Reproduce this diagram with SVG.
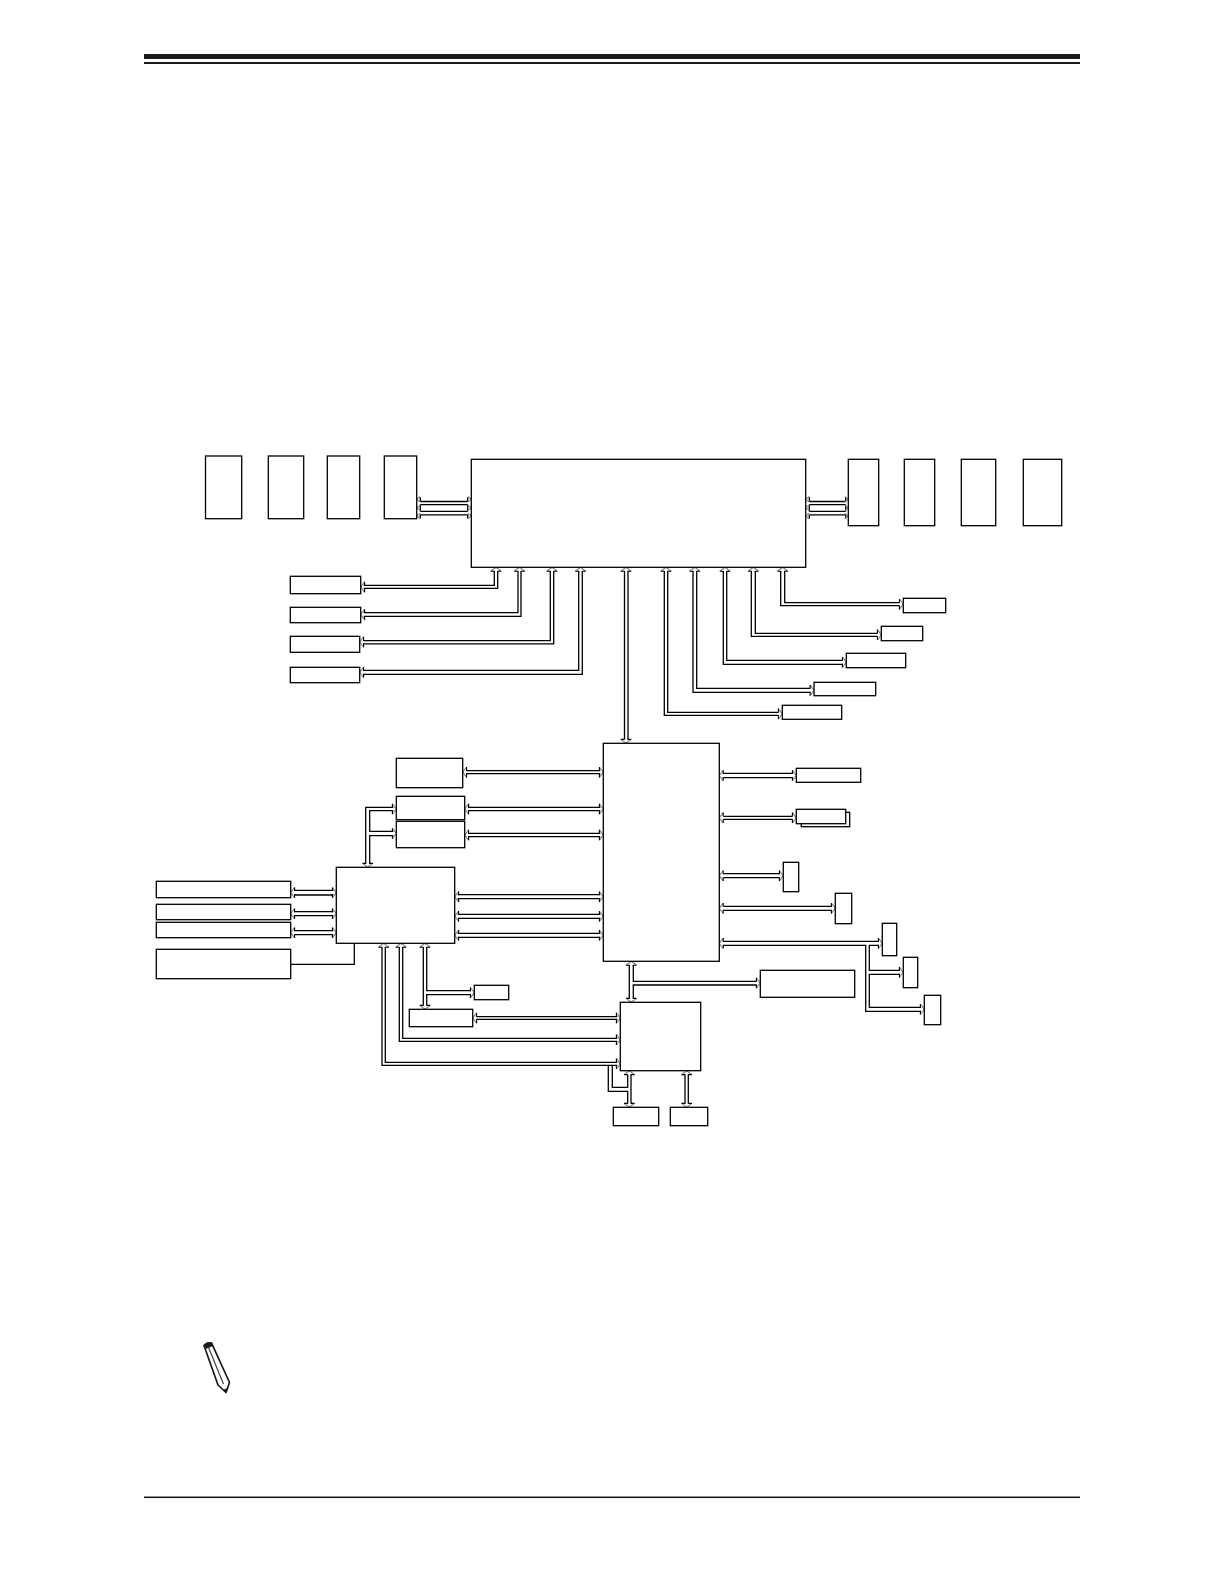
<svg xmlns="http://www.w3.org/2000/svg" xmlns:xlink="http://www.w3.org/1999/xlink" width="1224" height="1584" viewBox="0 0 1224 1584">
<style>
.n{fill:#fff;stroke:#000;stroke-width:1.3}
.b{fill:none;stroke:#000;stroke-width:1.3}
.r{fill:#1a1a1a}
</style>
<defs>
<g id="h" fill="none" stroke-width="1.1"><path d="M-3.9,-5.2L0,0L-3.9,5.2" stroke="#808080"/><path d="M-3.9,-5.2V-1.5M-3.9,5.2V1.5" stroke="#000"/></g>
<g id="s" fill="none" stroke-width="1.1"><path d="M-3.6,-2.8L0,0L-3.6,2.8" stroke="#808080"/></g>
</defs>
<rect width="1224" height="1584" fill="#fff"/>
<g id="page-rules">
<rect class="r" x="144" y="54" width="936" height="5"/>
<rect class="r" x="144" y="62" width="936" height="2"/>
<rect class="r" x="144" y="1496.5" width="936" height="1.6"/>
</g>
<g id="connectors">
<path class="b" d="M420.3,501.5H467.7M420.3,504.7H467.7M420.3,511.3H467.7M420.3,514.8H467.7M420.3,497.3V501.5M467.7,497.3V501.5M420.3,504.7V511.3M467.7,504.7V511.3M420.3,514.8V518.6M467.7,514.8V518.6"/>
<path class="b" d="M809.3,501.5H845.7M809.3,504.7H845.7M809.3,511.3H845.7M809.3,514.8H845.7M809.3,497.3V501.5M845.7,497.3V501.5M809.3,504.7V511.3M845.7,504.7V511.3M809.3,514.8V518.6M845.7,514.8V518.6"/>
<path class="b" d="M363.7,585.3H494.3V571M363.7,588.3H497.7V571"/>
<path class="b" d="M363.7,612.7H518V571M363.7,616.3H521V571"/>
<path class="b" d="M363,640.7H550.3V571M363,643.8H553.7V571"/>
<path class="b" d="M363,670.3H578.7V571M363,674.3H582.3V571"/>
<path class="b" d="M624.5,571V739.6M628,571V739.6"/>
<path class="b" d="M667.7,571V712.3H778.6M664.3,571V715.3H778.6"/>
<path class="b" d="M696.7,571V688.3H810.3M693,571V692.3H810.3"/>
<path class="b" d="M726.7,571V660.3H842.6M723.3,571V664.3H842.6"/>
<path class="b" d="M755.3,571V633.3H877.6M751.3,571V636.3H877.6"/>
<path class="b" d="M784.7,571V602.7H899.6M780.7,571V605.7H899.6"/>
<path class="b" d="M466,770.7H600.3M466,773.7H600.3"/>
<path class="b" d="M468,807.3H600.3M468,810.7H600.3"/>
<path class="b" d="M468,833.3H600.3M468,836.7H600.3"/>
<path class="b" d="M365.7,863.6V807.3H393.3M369.7,863.6V835.7H393.3M393.3,810.7H369.7V831.3H393.3"/>
<path class="b" d="M294,890.3H333.3M294,895H333.3M294,911.7H333.3M294,915.7H333.3M294,930.7H333.3M294,934.7H333.3"/>
<path class="b" d="M290.7,964.3H354.3V943.3"/>
<path class="b" d="M457.8,894.7H600.3M457.8,898.7H600.3M457.8,914.3H600.3M457.8,918.3H600.3M457.8,933.3H600.3M457.8,937.3H600.3"/>
<path class="b" d="M423.3,947V1005.6M426.7,947V990.7H471M426.7,1005.6V994.7H471"/>
<path class="b" d="M476.3,1016.7H617.3M476.3,1019.3H617.3"/>
<path class="b" d="M402.7,947V1038.3H617.3M399.3,947V1041.3H617.3"/>
<path class="b" d="M385.3,947V1062.3H617.3M382,947V1065.3H617.3"/>
<path class="b" d="M608.3,1065.3V1091.3H627.7V1103.6M612.3,1065.3V1087.3H627.7V1074.4M631,1074.4V1103.6"/>
<path class="b" d="M685,1074.4V1103.6M688.3,1074.4V1103.6"/>
<path class="b" d="M629.3,965V998.6M633.3,965V981.3H756.6M633.3,998.6V985H756.6"/>
<path class="b" d="M723.3,773.3H792.6M723.3,777.7H792.6"/>
<path class="b" d="M723.3,816.3H792.6M723.3,819.3H792.6"/>
<path class="b" d="M723.3,873.7H779.6M723.3,877.7H779.6"/>
<path class="b" d="M723.3,906.3H831.6M723.3,910.3H831.6"/>
<path class="b" d="M723.3,941.3H878.6M723.3,945.3H865.7V1011.3H921M878.6,945.3H869.3V970.3H900M900,974.3H869.3V1007.3H921"/>
</g>
<g id="arrowheads">
<use href="#s" transform="translate(416.7,499.3) rotate(180)"/><use href="#s" transform="translate(416.7,507.7) rotate(180)"/><use href="#s" transform="translate(416.7,516) rotate(180)"/>
<use href="#s" transform="translate(471.3,499.3)"/><use href="#s" transform="translate(471.3,507.7)"/><use href="#s" transform="translate(471.3,516)"/>
<use href="#s" transform="translate(805.7,499.3) rotate(180)"/><use href="#s" transform="translate(805.7,507.7) rotate(180)"/><use href="#s" transform="translate(805.7,516) rotate(180)"/>
<use href="#s" transform="translate(848.3,499.3)"/><use href="#s" transform="translate(848.3,507.7)"/><use href="#s" transform="translate(848.3,516)"/>
<use href="#h" transform="translate(496,567.3) rotate(-90)"/><use href="#h" transform="translate(360.7,587) rotate(180)"/>
<use href="#h" transform="translate(519.5,567.3) rotate(-90)"/><use href="#h" transform="translate(360.7,614.5) rotate(180)"/>
<use href="#h" transform="translate(552,567.3) rotate(-90)"/><use href="#h" transform="translate(359.7,642) rotate(180)"/>
<use href="#h" transform="translate(580.5,567.3) rotate(-90)"/><use href="#h" transform="translate(359.7,672.3) rotate(180)"/>
<use href="#h" transform="translate(626,567.3) rotate(-90)"/><use href="#h" transform="translate(626,743.3) rotate(90)"/>
<use href="#h" transform="translate(666,567.3) rotate(-90)"/><use href="#h" transform="translate(782.3,713.8)"/>
<use href="#h" transform="translate(694.8,567.3) rotate(-90)"/><use href="#h" transform="translate(814,690.3)"/>
<use href="#h" transform="translate(725,567.3) rotate(-90)"/><use href="#h" transform="translate(846.3,662.3)"/>
<use href="#h" transform="translate(753.3,567.3) rotate(-90)"/><use href="#h" transform="translate(881.3,634.8)"/>
<use href="#h" transform="translate(782.7,567.3) rotate(-90)"/><use href="#h" transform="translate(903.3,604.2)"/>
<use href="#h" transform="translate(462.7,772.2) rotate(180)"/><use href="#h" transform="translate(603.3,772.2)"/>
<use href="#h" transform="translate(464.7,809) rotate(180)"/><use href="#h" transform="translate(603.3,809)"/>
<use href="#h" transform="translate(464.7,835) rotate(180)"/><use href="#h" transform="translate(603.3,835)"/>
<use href="#h" transform="translate(367.7,867.3) rotate(90)"/>
<use href="#h" transform="translate(396.3,809) "/><use href="#h" transform="translate(396.3,833.5)"/>
<use href="#h" transform="translate(290.7,892.6) rotate(180)"/><use href="#h" transform="translate(336.3,892.6)"/>
<use href="#h" transform="translate(290.7,913.7) rotate(180)"/><use href="#h" transform="translate(336.3,913.7)"/>
<use href="#h" transform="translate(290.7,932.7) rotate(180)"/><use href="#h" transform="translate(336.3,932.7)"/>
<use href="#h" transform="translate(454.7,896.7) rotate(180)"/><use href="#h" transform="translate(603.3,896.7)"/>
<use href="#h" transform="translate(454.7,916.3) rotate(180)"/><use href="#h" transform="translate(603.3,916.3)"/>
<use href="#h" transform="translate(454.7,935.3) rotate(180)"/><use href="#h" transform="translate(603.3,935.3)"/>
<use href="#h" transform="translate(383.7,943.3) rotate(-90)"/><use href="#h" transform="translate(401,943.3) rotate(-90)"/><use href="#h" transform="translate(425,943.3) rotate(-90)"/>
<use href="#h" transform="translate(425,1009.3) rotate(90)"/><use href="#h" transform="translate(474.3,992.7)"/>
<use href="#h" transform="translate(472.7,1018) rotate(180)"/><use href="#h" transform="translate(620.3,1018)"/>
<use href="#h" transform="translate(620.3,1039.8)"/><use href="#h" transform="translate(620.3,1063.8)"/>
<use href="#h" transform="translate(629.3,1070.7) rotate(-90)"/><use href="#h" transform="translate(629.3,1107.3) rotate(90)"/>
<use href="#h" transform="translate(686.7,1070.7) rotate(-90)"/><use href="#h" transform="translate(686.7,1107.3) rotate(90)"/>
<use href="#h" transform="translate(631.3,961.3) rotate(-90)"/><use href="#h" transform="translate(631.3,1002.3) rotate(90)"/>
<use href="#h" transform="translate(760.3,983)"/>
<use href="#h" transform="translate(719.3,775.5) rotate(180)"/><use href="#h" transform="translate(796.3,775.5)"/>
<use href="#h" transform="translate(719.3,817.8) rotate(180)"/><use href="#h" transform="translate(796.3,817.8)"/>
<use href="#h" transform="translate(719.3,875.7) rotate(180)"/><use href="#h" transform="translate(783.3,875.7)"/>
<use href="#h" transform="translate(719.3,908.3) rotate(180)"/><use href="#h" transform="translate(835.3,908.3)"/>
<use href="#h" transform="translate(719.3,943.3) rotate(180)"/><use href="#h" transform="translate(882.3,943.3)"/>
<use href="#h" transform="translate(903.3,972.3)"/><use href="#h" transform="translate(924.3,1009.3)"/>
</g>
<g id="ram-left-1"><rect class="n" x="205.5" y="456" width="36.2" height="62.7"/></g>
<g id="ram-left-2"><rect class="n" x="268.3" y="456" width="35.4" height="62.7"/></g>
<g id="ram-left-3"><rect class="n" x="327.3" y="456" width="32.4" height="62.7"/></g>
<g id="ram-left-4"><rect class="n" x="384.3" y="456" width="32.4" height="62.7"/></g>
<g id="cpu"><rect class="n" x="471.3" y="459.3" width="334.4" height="108"/></g>
<g id="ram-right-1"><rect class="n" x="848.3" y="459.3" width="30.4" height="66.4"/></g>
<g id="ram-right-2"><rect class="n" x="904.3" y="459.3" width="30.4" height="66.4"/></g>
<g id="ram-right-3"><rect class="n" x="961.3" y="459.3" width="34.4" height="66.4"/></g>
<g id="ram-right-4"><rect class="n" x="1023.3" y="459.3" width="38.4" height="66.4"/></g>
<g id="slot-a"><rect class="n" x="290.3" y="576.3" width="70.4" height="17.4"/></g>
<g id="slot-b"><rect class="n" x="290.3" y="607.3" width="70.4" height="15.4"/></g>
<g id="slot-c"><rect class="n" x="290.3" y="636.3" width="69.4" height="16"/></g>
<g id="slot-d"><rect class="n" x="290.3" y="667.3" width="69.4" height="15.4"/></g>
<g id="slot-e"><rect class="n" x="903.3" y="598.3" width="42.4" height="14.4"/></g>
<g id="slot-f"><rect class="n" x="881.3" y="626.3" width="41.4" height="14.4"/></g>
<g id="slot-g"><rect class="n" x="846.3" y="653.3" width="59.4" height="14.4"/></g>
<g id="slot-h"><rect class="n" x="814" y="682.3" width="61.7" height="13.4"/></g>
<g id="slot-i"><rect class="n" x="782.3" y="705.3" width="59.4" height="14"/></g>
<g id="pch"><rect class="n" x="603.3" y="743.3" width="116" height="218"/></g>
<g id="box-l1"><rect class="n" x="396.3" y="758.3" width="66.4" height="29.4"/></g>
<g id="box-l2"><rect class="n" x="396.3" y="796.3" width="68.4" height="23.4"/></g>
<g id="box-l3"><rect class="n" x="396.3" y="821.3" width="68.4" height="26.4"/></g>
<g id="hub"><rect class="n" x="336.3" y="867.3" width="118.4" height="76"/></g>
<g id="port-1"><rect class="n" x="156.3" y="881.3" width="134.4" height="16.4"/></g>
<g id="port-2"><rect class="n" x="156.3" y="904.3" width="134.4" height="15.4"/></g>
<g id="port-3"><rect class="n" x="156.3" y="922.3" width="134.4" height="15.4"/></g>
<g id="port-4"><rect class="n" x="156.3" y="949.3" width="134.4" height="29.4"/></g>
<g id="small-1"><rect class="n" x="474.3" y="985.3" width="34.4" height="14.4"/></g>
<g id="small-2"><rect class="n" x="409.3" y="1009.3" width="63.4" height="17.4"/></g>
<g id="hub2"><rect class="n" x="620.3" y="1002.3" width="80.4" height="68.4"/></g>
<g id="bottom-1"><rect class="n" x="613.3" y="1107.3" width="45.4" height="18.4"/></g>
<g id="bottom-2"><rect class="n" x="670.3" y="1107.3" width="37.4" height="18.4"/></g>
<g id="right-wide"><rect class="n" x="760.3" y="970.3" width="94.4" height="27"/></g>
<g id="r1"><rect class="n" x="796.3" y="768.3" width="64.4" height="14"/></g>
<g id="r2"><rect class="n" x="801.3" y="812.3" width="48.4" height="14.4"/><rect class="n" x="796.3" y="809.3" width="49.4" height="14.4"/></g>
<g id="r3"><rect class="n" x="783.3" y="862.3" width="15.4" height="29.4"/></g>
<g id="r4"><rect class="n" x="835.3" y="893.3" width="16.4" height="30.4"/></g>
<g id="r5"><rect class="n" x="882.3" y="923.3" width="14.4" height="32.4"/></g>
<g id="r6"><rect class="n" x="903.3" y="957.3" width="14.4" height="30.4"/></g>
<g id="r7"><rect class="n" x="924.3" y="995.3" width="16.4" height="29.4"/></g>
<g id="pencil">
<path d="M204,1345.5L211.5,1342.8L229.5,1382.5L226,1392.5L218,1385Z" fill="#fff" stroke="#1a1a1a" stroke-width="1.7" stroke-linejoin="round"/>
<path d="M203.5,1345.5Q206,1340.5 211.8,1342.5L213.2,1346L205.5,1349Z" fill="#1a1a1a"/>
<path d="M208.3,1347L223.5,1384" fill="none" stroke="#333" stroke-width="1.1"/>
<path d="M227.5,1388L226,1392.8L223,1390Z" fill="#1a1a1a"/>
</g>
</svg>
